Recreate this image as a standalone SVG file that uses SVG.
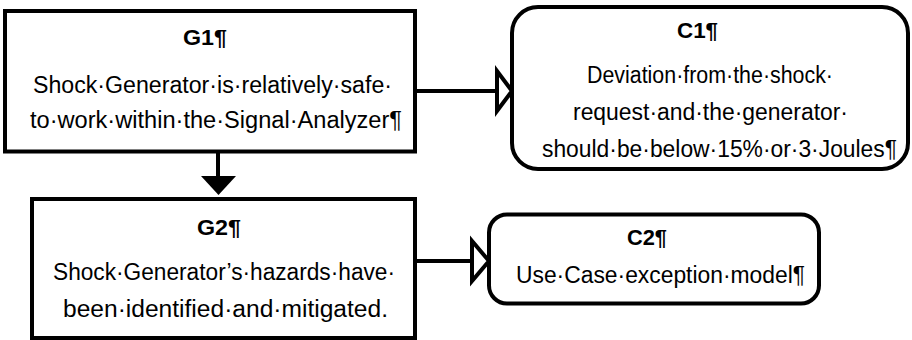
<svg xmlns="http://www.w3.org/2000/svg" width="912" height="340" viewBox="0 0 912 340">
  <style>
    .goal { fill: #ffffff; stroke: #000000; stroke-width: 4; }
    .ctx { fill: #ffffff; stroke: #000000; stroke-width: 4; }
    .edge { fill: none; stroke: #000000; stroke-width: 4; }
    .open-head { fill: #ffffff; stroke: #000000; stroke-width: 4; stroke-linejoin: miter; }
    .solid-head { fill: #000000; stroke: none; }
    text { font-family: "Liberation Sans", Arial, sans-serif; font-size: 23px; fill: #000000; }
    .title { font-weight: bold; font-size: 22px; }
  </style>
  <rect width="912" height="340" fill="#ffffff"/>

  <g id="connectors">
    <!-- G1 supported by G2 -->
    <line class="edge" x1="218" y1="151" x2="218" y2="178"/>
    <polygon class="solid-head" points="201,176 236,176 218.5,195"/>
    <!-- G1 in context of C1 -->
    <line class="edge" x1="415" y1="91" x2="497" y2="91"/>
    <polygon class="open-head" points="497,71 497,111 512,91"/>
    <!-- G2 in context of C2 -->
    <line class="edge" x1="415" y1="261" x2="472" y2="261"/>
    <polygon class="open-head" points="472,241 472,281 489,261"/>
  </g>

  <g id="G1">
    <rect class="goal" x="5" y="11" width="410" height="140.5"/>
    <text class="title" x="183" y="45" textLength="44" lengthAdjust="spacingAndGlyphs">G1¶</text>
    <text x="33" y="93" textLength="359" lengthAdjust="spacingAndGlyphs">Shock·Generator·is·relatively·safe·</text>
    <text x="30" y="128" textLength="372" lengthAdjust="spacingAndGlyphs">to·work·within·the·Signal·Analyzer¶</text>
  </g>

  <g id="C1">
    <rect class="ctx" x="512" y="7" width="396" height="162" rx="26" ry="26"/>
    <text class="title" x="677" y="38" textLength="41" lengthAdjust="spacingAndGlyphs">C1¶</text>
    <text x="587" y="83" textLength="246" lengthAdjust="spacingAndGlyphs">Deviation·from·the·shock·</text>
    <text x="573" y="120" textLength="275" lengthAdjust="spacingAndGlyphs">request·and·the·generator·</text>
    <text x="542" y="157" textLength="355" lengthAdjust="spacingAndGlyphs">should·be·below·15%·or·3·Joules¶</text>
  </g>

  <g id="G2">
    <rect class="goal" x="32" y="199" width="383" height="139"/>
    <text class="title" x="197" y="235" textLength="44" lengthAdjust="spacingAndGlyphs">G2¶</text>
    <text x="53" y="280" textLength="342" lengthAdjust="spacingAndGlyphs">Shock·Generator’s·hazards·have·</text>
    <text x="63" y="317" textLength="325" lengthAdjust="spacingAndGlyphs">been·identified·and·mitigated.</text>
  </g>

  <g id="C2">
    <rect class="ctx" x="489" y="214.5" width="330" height="89" rx="18" ry="18"/>
    <text class="title" x="627" y="245" textLength="40" lengthAdjust="spacingAndGlyphs">C2¶</text>
    <text x="516" y="283" textLength="289" lengthAdjust="spacingAndGlyphs">Use·Case·exception·model¶</text>
  </g>
</svg>
